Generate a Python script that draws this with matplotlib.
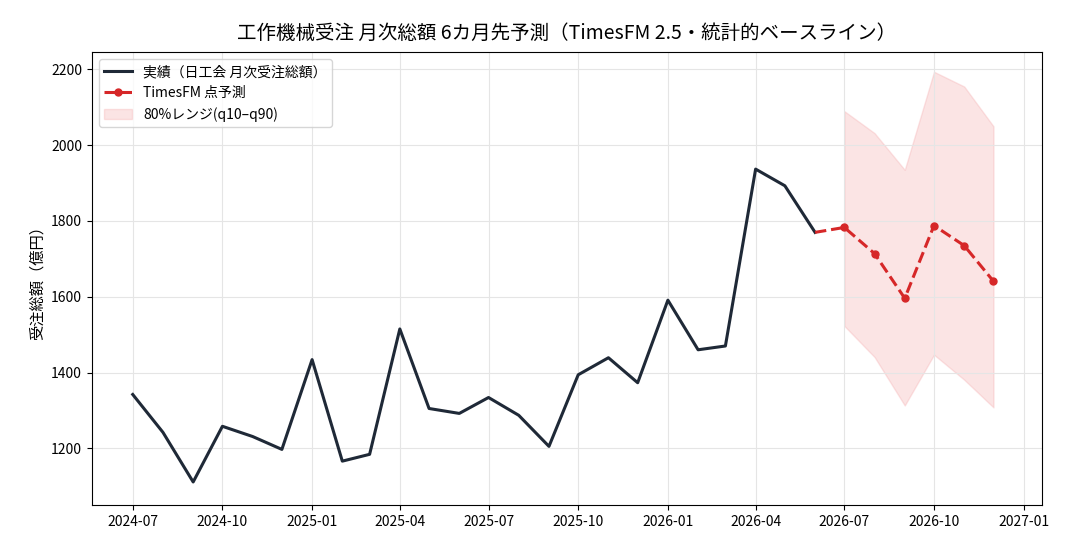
import matplotlib.pyplot as plt
import matplotlib.dates as mdates
import pandas as pd

plt.rcParams['font.family'] = ['Noto Sans CJK JP', 'DejaVu Sans']

actual_dates = pd.date_range('2024-07-01', '2026-06-01', freq='MS')
actual = [1342, 1242, 1111, 1258, 1231, 1197, 1434, 1166, 1184, 1515, 1305, 1292,
          1334, 1287, 1205, 1394, 1439, 1373, 1591, 1460, 1470, 1937, 1893, 1770]
fc_dates = pd.date_range('2026-07-01', '2026-12-01', freq='MS')
forecast = [1783, 1714, 1596, 1788, 1735, 1641]
q90 = [2090, 2032, 1935, 2194, 2155, 2050]
q10 = [1523, 1441, 1313, 1447, 1381, 1308]

fig, ax = plt.subplots(figsize=(10.8, 5.52), dpi=100)
ax.plot(actual_dates, actual, color='#1f2937', lw=2.2, label='実績（日工会 月次受注総額）')
ax.plot([actual_dates[-1]] + list(fc_dates), [actual[-1]] + forecast, color='#d62728', lw=2.2,
        ls='--', marker='o', ms=5, markevery=list(range(1, 7)), label='TimesFM 点予測')
ax.fill_between(fc_dates, q10, q90, color='#f4a6a8', alpha=0.3, label='80%レンジ(q10–q90)')
ax.set_title('工作機械受注 月次総額 6カ月先予測（TimesFM 2.5・統計的ベースライン）', fontsize=14, pad=10)
ax.set_ylabel('受注総額（億円）', fontsize=11)
ax.set_ylim(1050, 2245)
ax.set_yticks([1200, 1400, 1600, 1800, 2000, 2200])
ax.xaxis.set_major_locator(mdates.MonthLocator(bymonth=[1, 4, 7, 10]))
ax.xaxis.set_major_formatter(mdates.DateFormatter('%Y-%m'))
ax.set_xlim(pd.Timestamp('2024-05-20'), pd.Timestamp('2027-01-20'))
ax.grid(color='#e5e5e5', lw=0.8)
ax.legend(loc='upper left', fontsize=10)
fig.subplots_adjust(left=0.085, right=0.965, top=0.905, bottom=0.085)
fig.savefig('out.png')
